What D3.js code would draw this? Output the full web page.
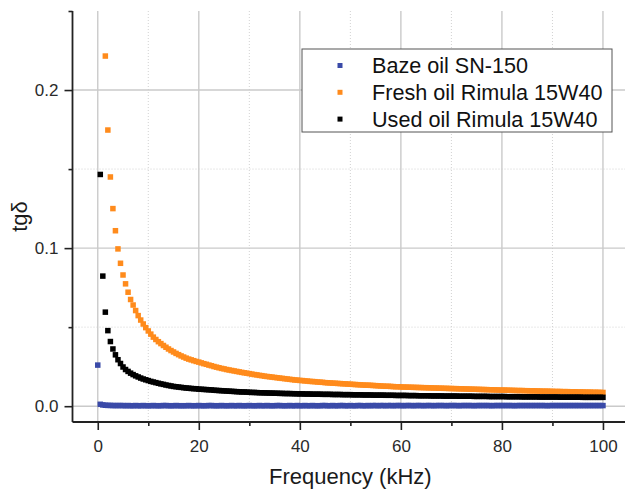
<!DOCTYPE html>
<html>
<head>
<meta charset="utf-8">
<script src="https://cdn.jsdelivr.net/npm/d3@7"></script>
<style>
  html, body { margin: 0; padding: 0; background: #fff; }
  svg { display: block; font-family: "Liberation Sans", Arial, Helvetica, sans-serif; }
</style>
</head>
<body>
<svg id="chart" width="625" height="490"></svg>
<script>
// Frequency sweep, kHz (0 to 100 in 0.5 kHz steps, 10 points per row)
const frequency = [
  0, 0.5, 1, 1.5, 2, 2.5, 3, 3.5, 4, 4.5,
  5, 5.5, 6, 6.5, 7, 7.5, 8, 8.5, 9, 9.5,
  10, 10.5, 11, 11.5, 12, 12.5, 13, 13.5, 14, 14.5,
  15, 15.5, 16, 16.5, 17, 17.5, 18, 18.5, 19, 19.5,
  20, 20.5, 21, 21.5, 22, 22.5, 23, 23.5, 24, 24.5,
  25, 25.5, 26, 26.5, 27, 27.5, 28, 28.5, 29, 29.5,
  30, 30.5, 31, 31.5, 32, 32.5, 33, 33.5, 34, 34.5,
  35, 35.5, 36, 36.5, 37, 37.5, 38, 38.5, 39, 39.5,
  40, 40.5, 41, 41.5, 42, 42.5, 43, 43.5, 44, 44.5,
  45, 45.5, 46, 46.5, 47, 47.5, 48, 48.5, 49, 49.5,
  50, 50.5, 51, 51.5, 52, 52.5, 53, 53.5, 54, 54.5,
  55, 55.5, 56, 56.5, 57, 57.5, 58, 58.5, 59, 59.5,
  60, 60.5, 61, 61.5, 62, 62.5, 63, 63.5, 64, 64.5,
  65, 65.5, 66, 66.5, 67, 67.5, 68, 68.5, 69, 69.5,
  70, 70.5, 71, 71.5, 72, 72.5, 73, 73.5, 74, 74.5,
  75, 75.5, 76, 76.5, 77, 77.5, 78, 78.5, 79, 79.5,
  80, 80.5, 81, 81.5, 82, 82.5, 83, 83.5, 84, 84.5,
  85, 85.5, 86, 86.5, 87, 87.5, 88, 88.5, 89, 89.5,
  90, 90.5, 91, 91.5, 92, 92.5, 93, 93.5, 94, 94.5,
  95, 95.5, 96, 96.5, 97, 97.5, 98, 98.5, 99, 99.5,
  100
];

// tgδ of the base oil SN-150
const bazeOil = [
  .0260, .0012, .0008, .0006, .0005, .0005, .0004, .0004, .0004, .0004,
  .0004, .0003, .0004, .0003, .0003, .0004, .0003, .0003, .0004, .0003,
  .0003, .0003, .0004, .0003, .0003, .0003, .0004, .0004, .0003, .0003,
  .0003, .0004, .0003, .0003, .0003, .0003, .0004, .0003, .0003, .0003,
  .0004, .0003, .0003, .0003, .0004, .0004, .0003, .0003, .0003, .0004,
  .0003, .0003, .0003, .0004, .0003, .0003, .0004, .0003, .0003, .0003,
  .0004, .0003, .0003, .0003, .0004, .0003, .0003, .0004, .0003, .0003,
  .0003, .0004, .0004, .0003, .0003, .0003, .0004, .0003, .0003, .0004,
  .0003, .0003, .0004, .0003, .0003, .0004, .0003, .0003, .0003, .0004,
  .0004, .0003, .0003, .0004, .0003, .0003, .0004, .0004, .0003, .0003,
  .0004, .0003, .0003, .0004, .0004, .0003, .0003, .0004, .0003, .0004,
  .0004, .0003, .0004, .0004, .0003, .0004, .0004, .0003, .0004, .0004,
  .0004, .0003, .0004, .0004, .0004, .0003, .0004, .0004, .0004, .0003,
  .0004, .0004, .0004, .0003, .0004, .0004, .0004, .0004, .0003, .0004,
  .0004, .0004, .0004, .0003, .0004, .0004, .0004, .0004, .0004, .0003,
  .0004, .0004, .0004, .0004, .0004, .0004, .0003, .0004, .0004, .0004,
  .0004, .0004, .0004, .0004, .0004, .0003, .0004, .0004, .0004, .0004,
  .0004, .0004, .0004, .0004, .0004, .0004, .0004, .0004, .0003, .0004,
  .0004, .0004, .0004, .0004, .0004, .0004, .0004, .0004, .0004, .0004,
  .0004, .0004, .0004, .0004, .0004, .0004, .0004, .0004, .0004, .0004,
  .0004
];

// tgδ of fresh Rimula 15W40 (lowest frequencies are above the plotted range)
const freshOil = [
  null, null, null, .2215, .1747, .1450, .1250, .1110, .0995, .0904,
  .0830, .0774, .0721, .0675, .0640, .0605, .0573, .0545, .0520, .0497,
  .0476, .0456, .0437, .0422, .0408, .0396, .0384, .0373, .0362, .0352,
  .0343, .0334, .0326, .0318, .0311, .0304, .0298, .0293, .0288, .0283,
  .0279, .0274, .0269, .0265, .0260, .0256, .0251, .0247, .0243, .0239,
  .0236, .0232, .0229, .0226, .0223, .0220, .0217, .0214, .0211, .0209,
  .0206, .0203, .0200, .0198, .0195, .0193, .0190, .0188, .0186, .0184,
  .0182, .0180, .0178, .0176, .0174, .0172, .0170, .0168, .0166, .0165,
  .0163, .0162, .0160, .0159, .0157, .0156, .0155, .0153, .0152, .0151,
  .0149, .0148, .0147, .0146, .0145, .0144, .0143, .0142, .0141, .0140,
  .0139, .0138, .0137, .0136, .0135, .0134, .0133, .0133, .0132, .0131,
  .0130, .0129, .0128, .0127, .0126, .0126, .0125, .0124, .0123, .0123,
  .0122, .0121, .0121, .0120, .0120, .0119, .0119, .0118, .0118, .0117,
  .0117, .0116, .0116, .0115, .0115, .0114, .0114, .0113, .0113, .0112,
  .0112, .0111, .0111, .0110, .0110, .0109, .0109, .0108, .0108, .0107,
  .0107, .0106, .0106, .0105, .0105, .0104, .0104, .0103, .0103, .0102,
  .0102, .0102, .0101, .0101, .0100, .0100, .0099, .0099, .0099, .0098,
  .0098, .0097, .0097, .0097, .0096, .0096, .0095, .0095, .0095, .0094,
  .0094, .0093, .0093, .0093, .0092, .0092, .0092, .0091, .0091, .0091,
  .0090, .0090, .0090, .0089, .0089, .0089, .0088, .0088, .0088, .0087,
  .0087
];

// tgδ of used Rimula 15W40
const usedOil = [
  null, .1466, .0823, .0595, .0478, .0409, .0362, .0325, .0294, .0270,
  .0248, .0232, .0220, .0209, .0200, .0192, .0185, .0178, .0172, .0167,
  .0162, .0157, .0153, .0149, .0145, .0141, .0138, .0134, .0131, .0128,
  .0125, .0123, .0121, .0119, .0117, .0115, .0114, .0112, .0111, .0110,
  .0108, .0107, .0106, .0105, .0104, .0103, .0101, .0100, .0099, .0098,
  .0097, .0096, .0095, .0094, .0093, .0092, .0091, .0090, .0090, .0089,
  .0088, .0087, .0087, .0086, .0085, .0085, .0084, .0084, .0083, .0083,
  .0082, .0082, .0081, .0081, .0080, .0080, .0080, .0079, .0079, .0078,
  .0078, .0078, .0077, .0077, .0077, .0076, .0076, .0076, .0076, .0075,
  .0075, .0075, .0075, .0074, .0074, .0074, .0074, .0073, .0073, .0073,
  .0073, .0072, .0072, .0072, .0072, .0071, .0071, .0071, .0071, .0070,
  .0070, .0070, .0070, .0070, .0069, .0069, .0069, .0069, .0068, .0068,
  .0068, .0068, .0068, .0067, .0067, .0067, .0067, .0066, .0066, .0066,
  .0066, .0066, .0065, .0065, .0065, .0065, .0065, .0064, .0064, .0064,
  .0064, .0064, .0064, .0063, .0063, .0063, .0063, .0063, .0063, .0062,
  .0062, .0062, .0062, .0062, .0062, .0061, .0061, .0061, .0061, .0061,
  .0061, .0061, .0060, .0060, .0060, .0060, .0060, .0060, .0059, .0059,
  .0059, .0059, .0059, .0059, .0059, .0058, .0058, .0058, .0058, .0058,
  .0058, .0058, .0058, .0057, .0057, .0057, .0057, .0057, .0057, .0057,
  .0057, .0057, .0056, .0056, .0056, .0056, .0056, .0056, .0056, .0056,
  .0056
];

const seriesNames = ["Baze oil SN-150", "Fresh oil Rimula 15W40", "Used oil Rimula 15W40"];
const seriesColors = ["#3a4aa8", "#ff8b1c", "#000000"];

const xMajorTicks = [0, 20, 40, 60, 80, 100];
const xMinorTicks = [10, 30, 50, 70, 90];
const yMajorTicks = [0, 0.1, 0.2];
const yMinorTicks = [0.05, 0.15, 0.25];

const xTitle = "Frequency (kHz)";
const yTitle = "tgδ";

// ---- layout ----
const svg = d3.select("#chart");
const W = 625, H = 490;
const plot = { left: 72.5, top: 11, bottom: 422, right: W };

const x = d3.scaleLinear().domain([-5, 105]).range([plot.left, plot.left + 110 * 5.052]);
const y = d3.scaleLinear().domain([-0.01, 0.25]).range([plot.bottom, plot.top]);

svg.append("defs").append("clipPath").attr("id", "plot-clip")
  .append("rect")
  .attr("x", plot.left).attr("y", plot.top)
  .attr("width", plot.right - plot.left).attr("height", plot.bottom - plot.top);

// ---- grid ----
const grid = svg.append("g");
grid.selectAll("line.vmin").data(xMinorTicks).join("line")
  .attr("x1", d => x(d)).attr("x2", d => x(d))
  .attr("y1", plot.top).attr("y2", plot.bottom)
  .attr("stroke", "#d2d2d2").attr("stroke-width", 1).attr("stroke-dasharray", "1,2");
grid.selectAll("line.hmin").data(yMinorTicks.filter(v => v < 0.25)).join("line")
  .attr("x1", plot.left).attr("x2", plot.right)
  .attr("y1", d => y(d)).attr("y2", d => y(d))
  .attr("stroke", "#d2d2d2").attr("stroke-width", 1).attr("stroke-dasharray", "1,2");
grid.selectAll("line.vmaj").data(xMajorTicks).join("line")
  .attr("x1", d => x(d)).attr("x2", d => x(d))
  .attr("y1", plot.top).attr("y2", plot.bottom)
  .attr("stroke", "#cacaca").attr("stroke-width", 1.4);
grid.selectAll("line.hmaj").data(yMajorTicks).join("line")
  .attr("x1", plot.left).attr("x2", plot.right)
  .attr("y1", d => y(d)).attr("y2", d => y(d))
  .attr("stroke", "#cacaca").attr("stroke-width", 1.4);

// ---- data points ----
const allSeries = [bazeOil, freshOil, usedOil];
const pts = svg.append("g").attr("clip-path", "url(#plot-clip)");
const size = 5.5;
allSeries.forEach((vals, si) => {
  const data = frequency.map((f, i) => ({ f, v: vals[i] })).filter(d => d.v !== null);
  pts.append("g").selectAll("rect").data(data).join("rect")
    .attr("x", d => x(d.f) - size / 2)
    .attr("y", d => y(d.v) - size / 2)
    .attr("width", size).attr("height", size)
    .attr("fill", seriesColors[si]);
});

// ---- axes ----
const axisColor = "#222";
const tickFont = 17;

const xAxisMajor = svg.append("g").attr("transform", `translate(0,${plot.bottom})`)
  .call(d3.axisBottom(x).tickValues(xMajorTicks).tickSize(8).tickPadding(10).tickFormat(d3.format("d")));
const xAxisMinor = svg.append("g").attr("transform", `translate(0,${plot.bottom})`)
  .call(d3.axisBottom(x).tickValues(xMinorTicks).tickSize(4).tickFormat(""));
const yAxisMajor = svg.append("g").attr("transform", `translate(${plot.left},0)`)
  .call(d3.axisLeft(y).tickValues(yMajorTicks).tickSize(8).tickPadding(6).tickFormat(d3.format(".1f")));
const yAxisMinor = svg.append("g").attr("transform", `translate(${plot.left},0)`)
  .call(d3.axisLeft(y).tickValues(yMinorTicks).tickSize(4).tickFormat(""));

[xAxisMajor, xAxisMinor, yAxisMajor, yAxisMinor].forEach(g => {
  g.select(".domain").remove();
  g.selectAll(".tick line").attr("stroke", axisColor).attr("stroke-width", 1.6);
  g.selectAll(".tick text").attr("fill", "#2a2a2a").style("font-size", tickFont + "px")
    .style("font-family", "'Liberation Sans', Arial, sans-serif");
});

svg.append("line")
  .attr("x1", plot.left).attr("x2", plot.right)
  .attr("y1", plot.bottom).attr("y2", plot.bottom)
  .attr("stroke", axisColor).attr("stroke-width", 1.8);
svg.append("line")
  .attr("x1", plot.left).attr("x2", plot.left)
  .attr("y1", plot.top).attr("y2", plot.bottom)
  .attr("stroke", axisColor).attr("stroke-width", 1.8);

// ---- axis titles ----
svg.append("text")
  .attr("x", x(50)).attr("y", 484)
  .attr("text-anchor", "middle")
  .attr("fill", "#1a1a1a")
  .style("font-size", "22px")
  .text(xTitle);

svg.append("text")
  .attr("transform", `translate(27,${(plot.top + plot.bottom) / 2}) rotate(-90)`)
  .attr("text-anchor", "middle")
  .attr("fill", "#1a1a1a")
  .style("font-size", "22px")
  .text(yTitle);

// ---- legend ----
const legend = svg.append("g");
legend.append("rect")
  .attr("x", 302).attr("y", 49).attr("width", 310).attr("height", 83)
  .attr("fill", "#fff").attr("stroke", "#555").attr("stroke-width", 1);
seriesNames.forEach((name, i) => {
  const cy = 65.5 + i * 26.8;
  legend.append("rect")
    .attr("x", 340 - 2.5).attr("y", cy - 2.5)
    .attr("width", 5).attr("height", 5)
    .attr("fill", seriesColors[i]);
  legend.append("text")
    .attr("x", 372).attr("y", cy)
    .attr("dy", "0.36em")
    .attr("fill", "#111")
    .style("font-size", "21.6px")
    .text(name);
});
</script>
</body>
</html>
